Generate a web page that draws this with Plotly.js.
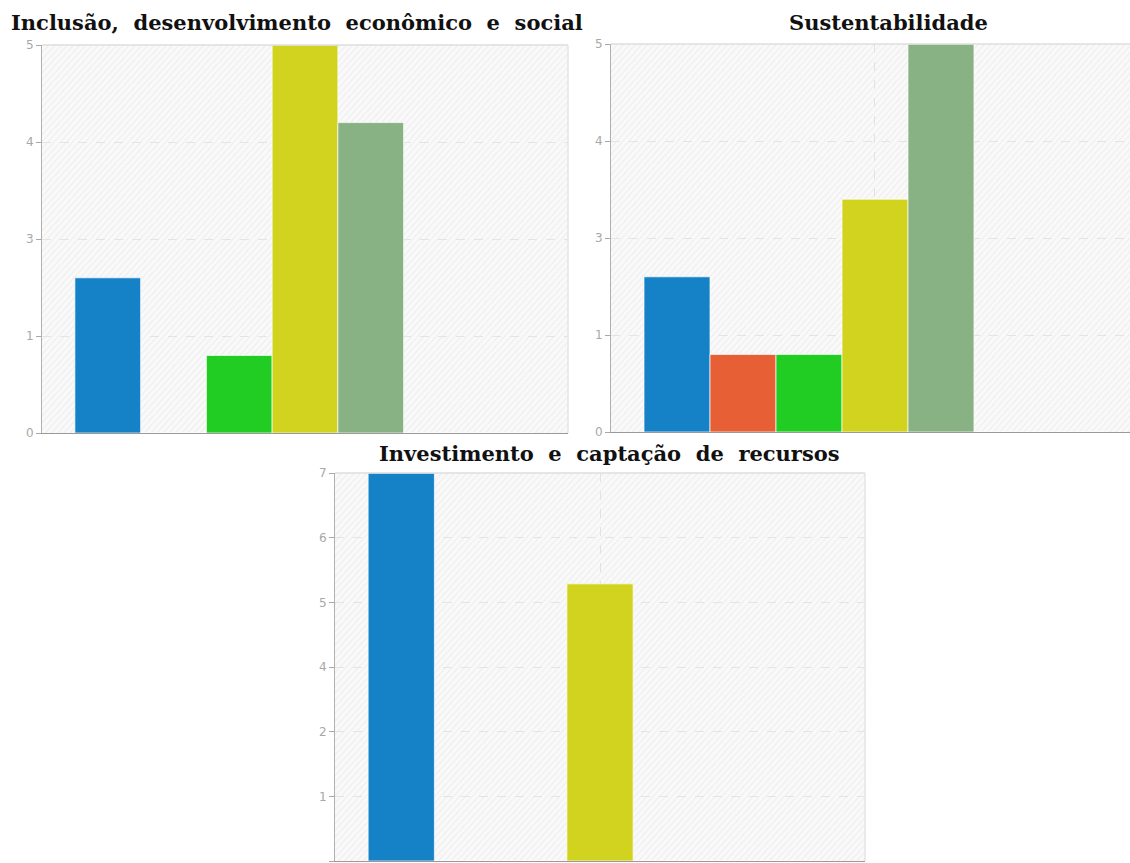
<!DOCTYPE html>
<html>
<head>
<meta charset="utf-8">
<script src="https://cdn.plot.ly/plotly-3.0.1.min.js"></script>
<style>
html,body{margin:0;padding:0;background:#fff;overflow:hidden;}
#chart{width:1130px;height:863px;}
</style>
</head>
<body>
<div id="chart"></div>
<script>
// Panel titles
const panelTitles = [
  "Inclusão, desenvolvimento econômico e social",
  "Sustentabilidade",
  "Investimento e captação de recursos"
];
// Series values (one value per panel, in panel order)
const serie1 = [2, 2, 7];
const serie2 = [0, 1, 0];
const serie3 = [1, 1, 0];
const serie4 = [5, 3, 5];
const serie5 = [4, 5, 0];
const serie6 = [0, 0, 0];
const serie7 = [0, 0, 0];
const seriesValues = [serie1, serie2, serie3, serie4, serie5, serie6, serie7];
const seriesNames = ["Série 1", "Série 2", "Série 3", "Série 4", "Série 5", "Série 6", "Série 7"];
const seriesColors = ["#1581c7", "#e65f35", "#21cd23", "#d2d31e", "#88b283", "#d4b48e", "#f6dccb"];
// Y tick positions and labels per panel
const yTickVals1 = [0, 1.25, 2.5, 3.75, 5];
const yTickText1 = ["0", "1", "3", "4", "5"];
const yTickVals2 = [0, 1.25, 2.5, 3.75, 5];
const yTickText2 = ["0", "1", "3", "4", "5"];
const yTickVals3 = [0, 7/6, 14/6, 21/6, 28/6, 35/6, 7];
const yTickText3 = ["0", "1", "2", "4", "5", "6", "7"];
const yMax = [5, 5, 7];

const W = 1130, H = 863;
const px = v => v / W;
const py = v => 1 - v / H;

const axisSuffix = ["", "2", "3"];
const traces = [];
seriesValues.forEach((vals, s) => {
  vals.forEach((v, p) => {
    traces.push({
      type: "bar",
      x: [panelTitles[p]],
      y: [v],
      name: seriesNames[s],
      xaxis: "x" + axisSuffix[p],
      yaxis: "y" + axisSuffix[p],
      marker: {color: seriesColors[s], line: {color: "rgba(255,255,255,0.7)", width: 1}},
      showlegend: false,
      hoverinfo: "y+name"
    });
  });
});

const hatch = "data:image/svg+xml;utf8," + encodeURIComponent(
  '<svg xmlns="http://www.w3.org/2000/svg" width="600" height="400">' +
  '<defs><pattern id="p" width="5" height="5" patternUnits="userSpaceOnUse" patternTransform="rotate(45)">' +
  '<line x1="0" y1="0" x2="0" y2="5" stroke="#e9e9e9" stroke-width="1.5"/></pattern></defs>' +
  '<rect width="600" height="400" fill="url(#p)"/></svg>');

const tickFont = {family: "DejaVu Sans, sans-serif", size: 12, color: "#a8a8a8"};
function xAx(domain, range, anchor) {
  return {
    domain: domain, range: range, type: "category", anchor: anchor,
    showticklabels: false, ticks: "",
    showgrid: true, gridcolor: "#e2e2e2", griddash: "dash", gridwidth: 1,
    showline: true, linecolor: "#9a9a9a", linewidth: 1,
    zeroline: false, fixedrange: true
  };
}
function yAx(domain, max, tv, tt, anchor) {
  return {
    domain: domain, range: [0, max], anchor: anchor,
    tickmode: "array", tickvals: tv, ticktext: tt,
    ticks: "outside", ticklen: 5, tickcolor: "#a8a8a8", tickwidth: 1,
    tickfont: tickFont,
    showgrid: true, gridcolor: "#e4e4e4", griddash: "dash", gridwidth: 1,
    showline: true, linecolor: "#b0b0b0", linewidth: 1,
    zeroline: false, fixedrange: true
  };
}

const d1x = [px(42), px(568)], d1y = [py(433), py(45)];
const d2x = [px(611), 1], d2y = [py(432), py(44)];
const d3x = [px(335), px(865)], d3y = [py(861), py(473)];

const titleFont = {family: "DejaVu Serif, serif", size: 21, color: "#111"};
const spaced = t => "<b>" + t.split(" ").join("\u00A0 ") + "</b>";
const layout = {
  width: W, height: H,
  margin: {l: 0, r: 0, t: 0, b: 0},
  paper_bgcolor: "#ffffff",
  plot_bgcolor: "#f9f9f9",
  barmode: "group",
  bargap: 0.125,
  bargroupgap: 0,
  showlegend: false,
  xaxis: xAx(d1x, [-0.5, 0.5], "y"),
  yaxis: yAx(d1y, yMax[0], yTickVals1, yTickText1, "x"),
  xaxis2: xAx(d2x, [-0.5, 0.483], "y2"),
  yaxis2: yAx(d2y, yMax[1], yTickVals2, yTickText2, "x2"),
  xaxis3: xAx(d3x, [-0.5, 0.5], "y3"),
  yaxis3: yAx(d3y, yMax[2], yTickVals3, yTickText3, "x3"),
  images: [
    {source: hatch, xref: "x domain", yref: "y domain", x: 0, y: 1, sizex: 1, sizey: 1, sizing: "stretch", layer: "below", xanchor: "left", yanchor: "top"},
    {source: hatch, xref: "x2 domain", yref: "y2 domain", x: 0, y: 1, sizex: 1, sizey: 1, sizing: "stretch", layer: "below", xanchor: "left", yanchor: "top"},
    {source: hatch, xref: "x3 domain", yref: "y3 domain", x: 0, y: 1, sizex: 1, sizey: 1, sizing: "stretch", layer: "below", xanchor: "left", yanchor: "top"}
  ],
  shapes: [
    {type: "line", xref: "x domain", yref: "y domain", x0: 0, x1: 1, y0: 1, y1: 1, line: {color: "#dedede", width: 1.5}},
    {type: "line", xref: "x domain", yref: "y domain", x0: 1, x1: 1, y0: 0, y1: 1, line: {color: "#e4e4e4", width: 1.5}},
    {type: "line", xref: "x2 domain", yref: "y2 domain", x0: 0, x1: 1, y0: 1, y1: 1, line: {color: "#dedede", width: 1.5}},
    {type: "line", xref: "x3 domain", yref: "y3 domain", x0: 0, x1: 1, y0: 1, y1: 1, line: {color: "#dedede", width: 1.5}},
    {type: "line", xref: "x3 domain", yref: "y3 domain", x0: 1, x1: 1, y0: 0, y1: 1, line: {color: "#e4e4e4", width: 1.5}}
  ],
  annotations: [
    {text: spaced(panelTitles[0]), xref: "paper", yref: "paper", x: px(297), y: py(23), xanchor: "center", yanchor: "middle", showarrow: false, font: titleFont},
    {text: spaced(panelTitles[1]), xref: "paper", yref: "paper", x: px(888), y: py(23), xanchor: "center", yanchor: "middle", showarrow: false, font: titleFont},
    {text: spaced(panelTitles[2]), xref: "paper", yref: "paper", x: px(609), y: py(453), xanchor: "center", yanchor: "middle", showarrow: false, font: titleFont}
  ]
};

Plotly.newPlot("chart", traces, layout, {displayModeBar: false, staticPlot: true});
</script>
</body>
</html>
